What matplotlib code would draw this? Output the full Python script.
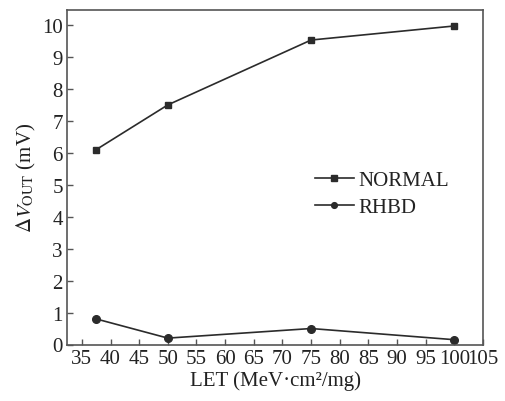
import matplotlib
matplotlib.use("Agg")
import matplotlib.pyplot as plt

# -----------------------------
# Data
# -----------------------------
let_values = [37.5, 50, 75, 100]
normal_vout = [6.1, 7.5, 9.53, 9.97]
rhbd_vout = [0.8, 0.2, 0.5, 0.15]

x_ticks = list(range(35, 106, 5))
y_ticks = list(range(0, 11))

# -----------------------------
# Style
# -----------------------------
LINE_COLOR = "#2b2b2b"
AXES_COLOR = "#555555"
TEXT_COLOR = "#222222"
FONT_SIZE = 15

plt.rcParams.update({
    "font.family": ["Liberation Serif", "DejaVu Serif"],
    "mathtext.fontset": "stix",
    "font.size": FONT_SIZE,
    "text.color": TEXT_COLOR,
    "axes.labelcolor": TEXT_COLOR,
    "xtick.color": AXES_COLOR,
    "ytick.color": AXES_COLOR,
    "xtick.labelcolor": TEXT_COLOR,
    "ytick.labelcolor": TEXT_COLOR,
})

fig = plt.figure(figsize=(5.06, 4.02), dpi=100)
ax = fig.add_axes([67 / 506, 1 - 345.5 / 402, (483 - 67) / 506, (345.5 - 11) / 402])

ax.plot(let_values, normal_vout, color=LINE_COLOR, lw=1.2, marker="s",
        ms=5, label="NORMAL")
ax.plot(let_values, rhbd_vout, color=LINE_COLOR, lw=1.2, marker="o",
        ms=5.5, label="RHBD")

ax.set_xlim(32.4, 104.9)
ax.set_ylim(0, 10.47)
ax.set_xticks(x_ticks)
ax.set_yticks(y_ticks)
ax.tick_params(direction="in", length=4, width=1, labelsize=FONT_SIZE, pad=3)
ax.tick_params(top=False, right=False)

for spine in ax.spines.values():
    spine.set_color(AXES_COLOR)
    spine.set_linewidth(1.2)

ax.set_xlabel("LET (MeV·cm²/mg)", fontsize=FONT_SIZE, labelpad=2)
ax.set_ylabel(r"$\Delta V_{\rm OUT}$ (mV)", fontsize=FONT_SIZE, labelpad=3)

leg = ax.legend(loc="upper left", bbox_to_anchor=(0.575, 0.545), frameon=False,
                fontsize=FONT_SIZE, handlelength=1.9, handletextpad=0.2,
                labelspacing=0.35, markerscale=0.75, borderaxespad=0)

fig.savefig("out.png", dpi=100)
